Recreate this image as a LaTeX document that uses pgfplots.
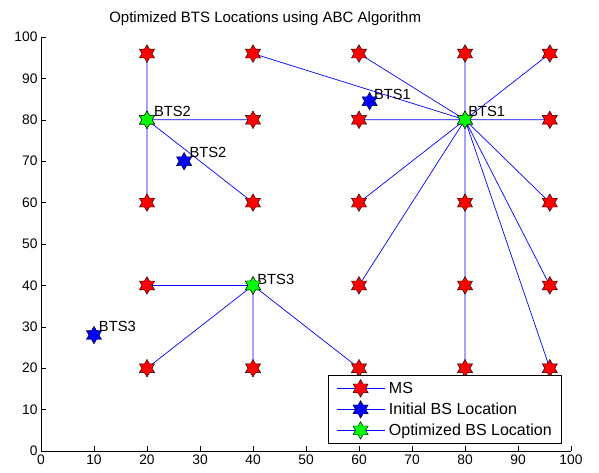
\documentclass[border=0pt]{standalone}
\usepackage{fontspec}
\setmainfont{Liberation Sans}
\usepackage{pgfplots}
\pgfplotsset{compat=1.18}
\pgfdeclareplotmark{hexagram}{%
  \pgfpathmoveto{\pgfpointpolar{90}{\pgfplotmarksize}}%
  \pgfpathlineto{\pgfpointpolar{120}{0.57735\pgfplotmarksize}}%
  \pgfpathlineto{\pgfpointpolar{150}{\pgfplotmarksize}}%
  \pgfpathlineto{\pgfpointpolar{180}{0.57735\pgfplotmarksize}}%
  \pgfpathlineto{\pgfpointpolar{210}{\pgfplotmarksize}}%
  \pgfpathlineto{\pgfpointpolar{240}{0.57735\pgfplotmarksize}}%
  \pgfpathlineto{\pgfpointpolar{270}{\pgfplotmarksize}}%
  \pgfpathlineto{\pgfpointpolar{300}{0.57735\pgfplotmarksize}}%
  \pgfpathlineto{\pgfpointpolar{330}{\pgfplotmarksize}}%
  \pgfpathlineto{\pgfpointpolar{0}{0.57735\pgfplotmarksize}}%
  \pgfpathlineto{\pgfpointpolar{30}{\pgfplotmarksize}}%
  \pgfpathlineto{\pgfpointpolar{60}{0.57735\pgfplotmarksize}}%
  \pgfpathclose
  \pgfusepathqfillstroke
}
\definecolor{mred}{RGB}{255,0,0}
\definecolor{mblue}{RGB}{0,0,255}
\definecolor{mgreen}{RGB}{0,255,0}
\pgfplotstableread{
x y
20 20
40 20
60 20
80 20
96 20
20 40
40 40
60 40
80 40
96 40
20 60
40 60
60 60
80 60
96 60
20 80
40 80
60 80
80 80
96 80
20 96
40 96
60 96
80 96
96 96
}\mstable
\pgfplotstableread{
x y
80 80
40 96
nan nan
80 80
60 96
nan nan
80 80
80 96
nan nan
80 80
96 96
nan nan
80 80
60 80
nan nan
80 80
96 80
nan nan
80 80
60 60
nan nan
80 80
80 60
nan nan
80 80
96 60
nan nan
80 80
60 40
nan nan
80 80
80 40
nan nan
80 80
96 40
nan nan
80 80
80 20
nan nan
80 80
96 20
nan nan
20 80
20 96
nan nan
20 80
40 80
nan nan
20 80
20 60
nan nan
20 80
40 60
nan nan
40 40
20 40
nan nan
40 40
20 20
nan nan
40 40
40 20
nan nan
40 40
60 20
}\linktable
\begin{document}
\begin{tikzpicture}
\useasboundingbox (-41pt,-21pt) rectangle (558pt,451pt);
\begin{axis}[
  width=530pt, height=414pt, scale only axis,
  xmin=0, xmax=100, ymin=0, ymax=100,
  xtick={0,10,...,100}, ytick={0,10,...,100},
  axis lines=left, axis line style={-, line width=0.6pt},
  tick align=inside, major tick length=5pt,
  tick style={black, line width=0.5pt},
  /pgf/number format/assume math mode=true,
  ticklabel style={font=\fontsize{13.8}{16}\selectfont},
  title={Optimized BTS Locations using ABC Algorithm},
  title style={font=\fontsize{15}{17}\selectfont, at={(0.423,1)}, anchor=center, yshift=12.5pt},
  clip=false,
  mark size=8.8pt,
  legend style={at={(0.983,0.017)}, anchor=south east, draw=black, line width=0.6pt,
    font=\fontsize{16}{18}\selectfont, row sep=3.4pt, inner xsep=8pt, inner ysep=4.5pt, column sep=2pt},
  legend cell align=left,
  legend image code/.code={%
    \draw[mblue, line width=0.7pt] (0pt,0pt) -- (48pt,0pt);
    \draw[#1] plot coordinates {(24pt,0pt)};},
]
\addplot[only marks, mark=hexagram, mark options={fill=mred, draw=black, line width=0.4pt}] table[x=x,y=y] {\mstable};
\addlegendentry{MS}
\addplot[only marks, mark=hexagram, mark options={fill=mblue, draw=black, line width=0.4pt}] coordinates {(62,84.5) (27,70) (10,28)};
\addlegendentry{Initial BS Location}
\addplot[only marks, mark=hexagram, mark options={fill=mgreen, draw=black, line width=0.4pt}] coordinates {(80,80) (20,80) (40,40)};
\addlegendentry{Optimized BS Location}
\addplot[mblue, line width=0.7pt, unbounded coords=jump, forget plot] table[x=x,y=y] {\linktable};
\node[anchor=west, inner sep=0pt, font=\fontsize{14.7}{17}\selectfont] at (axis cs:80.6,82.1) {BTS1};
\node[anchor=west, inner sep=0pt, font=\fontsize{14.7}{17}\selectfont] at (axis cs:62.8,86.2) {BTS1};
\node[anchor=west, inner sep=0pt, font=\fontsize{14.7}{17}\selectfont] at (axis cs:21.3,81.9) {BTS2};
\node[anchor=west, inner sep=0pt, font=\fontsize{14.7}{17}\selectfont] at (axis cs:28.0,72) {BTS2};
\node[anchor=west, inner sep=0pt, font=\fontsize{14.7}{17}\selectfont] at (axis cs:40.8,41.5) {BTS3};
\node[anchor=west, inner sep=0pt, font=\fontsize{14.7}{17}\selectfont] at (axis cs:10.9,30) {BTS3};
\end{axis}
\end{tikzpicture}
\end{document}
